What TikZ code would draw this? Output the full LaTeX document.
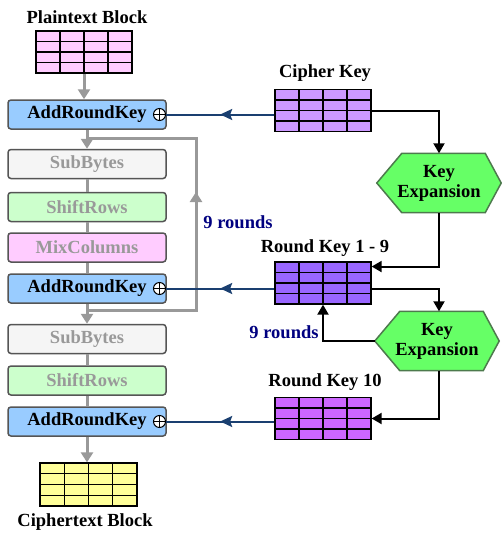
\documentclass[tikz,border=0pt]{standalone}
\usepackage{fontspec}
\setmainfont{Liberation Serif}
\usetikzlibrary{arrows.meta,calc,decorations.markings,backgrounds}
\definecolor{arkfill}{HTML}{99CCFF}
\definecolor{boxline}{HTML}{555555}
\definecolor{graytext}{HTML}{999999}
\definecolor{flowgray}{HTML}{999999}
\definecolor{sbfill}{HTML}{F5F5F5}
\definecolor{srfill}{HTML}{CCFFCC}
\definecolor{mcfill}{HTML}{FFCCFF}
\definecolor{ptfill}{HTML}{FFCCFF}
\definecolor{ckfill}{HTML}{CC99FF}
\definecolor{rkfill}{HTML}{9966FF}
\definecolor{rktfill}{HTML}{CC66FF}
\definecolor{ctfill}{HTML}{FFFF99}
\definecolor{hexfill}{HTML}{66FF66}
\definecolor{hexline}{HTML}{4D7A4D}
\definecolor{keyblue}{HTML}{1A3F70}
\definecolor{navy}{HTML}{000080}
\newcommand{\lblfont}{\fontsize{18.5}{20}\selectfont\bfseries}
\tikzset{
  box/.style={draw=boxline, line width=1.5pt, rounded corners=3pt, minimum width=158pt, minimum height=29pt, inner sep=0pt, font=\lblfont},
  ark/.style={box, fill=arkfill, text=black},
  gbox/.style={box, text=graytext},
  grid/.style={draw=black, line width=1.3pt, minimum width=96pt, minimum height=42pt, inner sep=0pt,
    path picture={
      \foreach \f in {0.25,0.5,0.75}{
        \draw[line width=1.3pt] ($(path picture bounding box.north west)!\f!(path picture bounding box.north east)$) -- ($(path picture bounding box.south west)!\f!(path picture bounding box.south east)$);
        \draw[line width=1.3pt] ($(path picture bounding box.north west)!\f!(path picture bounding box.south west)$) -- ($(path picture bounding box.north east)!\f!(path picture bounding box.south east)$);
      }}},
  lbl/.style={font=\lblfont, inner sep=0pt},
  rounds/.style={font=\lblfont, text=navy, inner sep=0pt},
  gflow/.style={draw=flowgray, line width=3pt},
  garrow/.style={gflow, -{Triangle[length=10pt,width=12pt]}},
  karrow/.style={draw=black, line width=2pt, -{Triangle[length=10pt,width=11pt]}},
  barrow/.style={draw=keyblue, line width=2pt,
    decoration={markings, mark=at position 0.5 with {\arrow{Stealth[length=12pt,width=11pt,inset=2pt]}}},
    postaction={decorate}},
  hex/.style={fill=hexfill, draw=hexline, line width=1.5pt},
  kebox/.style={minimum width=124pt, minimum height=59pt, inner sep=0pt, font=\lblfont, align=center},
  xor/.style={circle, draw=black, fill=white, line width=1pt, minimum size=12pt, inner sep=0pt,
    path picture={\draw[line width=1pt] (path picture bounding box.north) -- (path picture bounding box.south) (path picture bounding box.west) -- (path picture bounding box.east);}}
}
\begin{document}
\begin{tikzpicture}[x=1pt,y=-1pt]
\useasboundingbox (0,0) rectangle (501,533);
% labels
\node[lbl] (ptl) at (87,17) {Plaintext Block};
\node[lbl] (ckl) at (325,73) {Cipher Key};
\node[lbl] (rkl) at (325,248) {Round Key 1 - 9};
\node[lbl] (rktl) at (325,382) {Round Key 10};
\node[lbl] (ctl) at (85,522) {Ciphertext Block};
\node[rounds] (r1) at (238,222) {9 rounds};
\node[rounds] (r2) at (284,332) {9 rounds};
% grids
\node[grid, fill=ptfill] (pt) at (84,52) {};
\node[grid, fill=ckfill] (ck) at (323,110.5) {};
\node[grid, fill=rkfill] (rk) at (323,283) {};
\node[grid, fill=rktfill] (rkt) at (323,418.5) {};
\node[grid, fill=ctfill, minimum width=97pt, minimum height=43pt] (ct) at (88.5,484.5) {};
% round boxes
\node[ark] (ark1) at (87,114.5) {AddRoundKey};
\node[gbox, fill=sbfill] (sb1) at (87,164) {SubBytes};
\node[gbox, fill=srfill] (sr1) at (87,207) {ShiftRows};
\node[gbox, fill=mcfill] (mc) at (87,247.5) {MixColumns};
\node[ark] (ark2) at (87,288.5) {AddRoundKey};
\node[gbox, fill=sbfill] (sb2) at (87,339) {SubBytes};
\node[gbox, fill=srfill] (sr2) at (87,380.5) {ShiftRows};
\node[ark] (ark3) at (87,421.5) {AddRoundKey};
\node[xor] (x1) at (159.5,114.5) {};
\node[xor] (x2) at (159.5,288.5) {};
\node[xor] (x3) at (159.5,421.5) {};
% key expansion
\node[kebox] (ke1) at (439,183) {Key\\Expansion};
\node[kebox] (ke2) at (437,341) {Key\\Expansion};
\begin{scope}[on background layer]
\fill[white] (0,0) rectangle (501,533);
\draw[hex] (ke1.west) -- ($(ke1.north west)+(25,0)$) -- ($(ke1.north east)+(-16,0)$) -- (ke1.east) -- ($(ke1.south east)+(-16,0)$) -- ($(ke1.south west)+(25,0)$) -- cycle;
\draw[hex] (ke2.west) -- ($(ke2.north west)+(25,0)$) -- ($(ke2.north east)+(-16,0)$) -- (ke2.east) -- ($(ke2.south east)+(-16,0)$) -- ($(ke2.south west)+(25,0)$) -- cycle;
\end{scope}
% gray flow
\draw[garrow] (pt.south) -- (pt.south |- ark1.north);
\draw[garrow] (ark1) -- (sb1);
\draw[gflow] (sb1) -- (sr1);
\draw[gflow] (sr1) -- (mc);
\draw[gflow] (mc) -- (ark2);
\draw[garrow] (ark2) -- (sb2);
\draw[gflow] (sb2) -- (sr2);
\draw[gflow] (sr2) -- (ark3);
\draw[garrow] (ark3.south) -- (ark3.south |- ct.north);
\coordinate (j1) at (87,138);
\coordinate (j2) at (87,310);
\coordinate (c1) at (196,310);
\coordinate (c2) at (196,138);
\draw[gflow, decoration={markings, mark=at position 227pt with {\arrow{Triangle[length=10pt,width=12pt]}}}, postaction={decorate}] (j2) -- (c1) -- (c2) -- (j1);
% black key flow
\draw[karrow] (ck.east) -| (ke1.north);
\draw[karrow] (ke1.south) |- ($(rk.north east)!0.12!(rk.south east)$);
\draw[karrow] ($(rk.north east)!0.64!(rk.south east)$) -| (ke2.north -| ke1.north);
\draw[karrow] (ke2.west) -| (rk.south);
\draw[karrow] (ke2.south -| ke1.south) |- (rkt.east);
% blue key lines
\draw[barrow] (ck.west |- x1) -- (x1.east);
\draw[barrow] (rk.west |- x2) -- (x2.east);
\draw[barrow] (rkt.west |- x3) -- (x3.east);
\end{tikzpicture}
\end{document}
